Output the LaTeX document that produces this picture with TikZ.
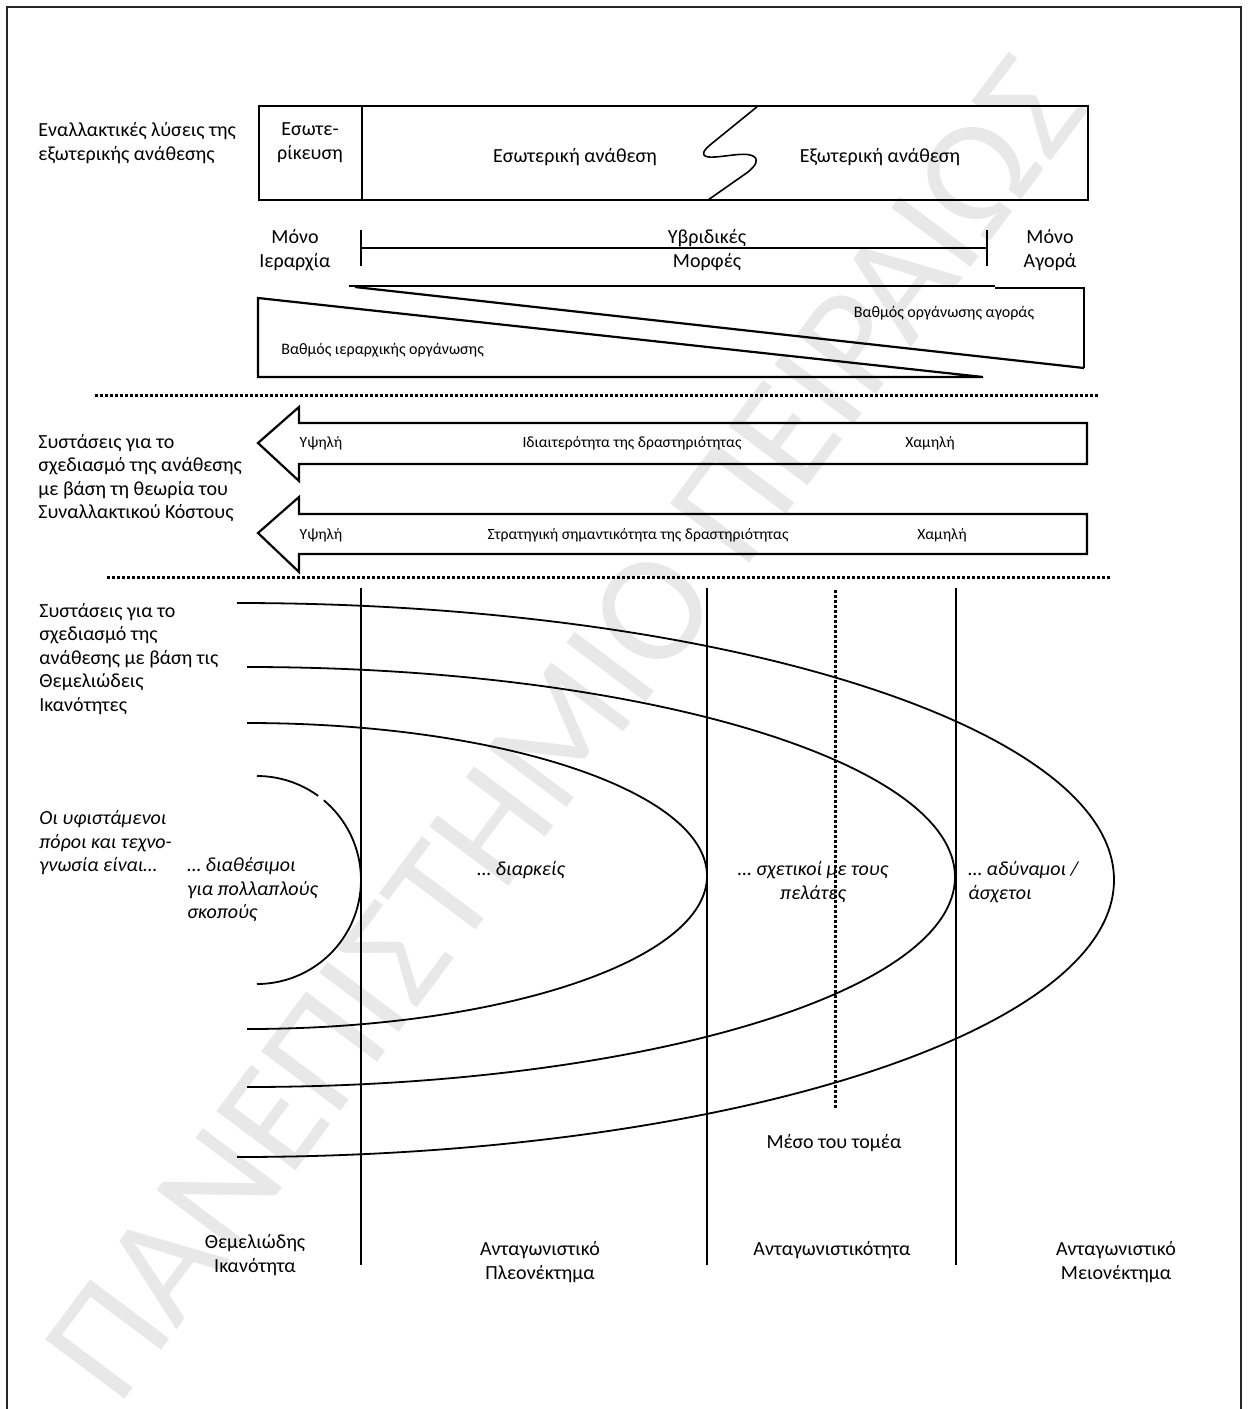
\documentclass[tikz,border=0pt]{standalone}
\usepackage{fontspec}
\setmainfont{Carlito}
\newfontfamily\wmfont{Carlito}
\begin{document}
\begin{tikzpicture}[x=0.5pt,y=-0.5pt,
  frame/.style={line width=1.3pt, black!85},
  box/.style={line width=1.1pt},
  thinline/.style={line width=0.8pt},
  curve/.style={line width=0.9pt},
  dots/.style={line width=1.5pt, dash pattern=on 1.5pt off 1pt},
  lab/.style={inner sep=0pt, align=left, font=\fontsize{10}{11.75}\selectfont},
  clab/.style={inner sep=0pt, align=center, font=\fontsize{10}{12}\selectfont},
  slab/.style={inner sep=0pt, font=\fontsize{8}{9.6}\selectfont},
  alab/.style={inner sep=0pt, font=\fontsize{7.8}{9}\selectfont},
  ilab/.style={inner sep=0pt, font=\itshape\fontsize{10}{11.75}\selectfont},
  wm/.style={inner sep=0pt, text=gray!18, font=\wmfont\fontsize{77}{77}\selectfont}
]
\useasboundingbox (0,0) rectangle (1248,1409);
\fill[white] (0,0) rectangle (1248,1409);

% watermark
\node[wm, rotate=53.2] (wmark) at (565,728) {ΠΑΝΕΠΙΣΤΗΜΙΟ ΠΕΙΡΑΙΩΣ};

% outer frame
\draw[frame] (7,1409) -- (7,7) -- (1241,7) -- (1241,1409);

% ---------- top box ----------
\draw[box] (259,106) rectangle (1088,200);
\draw[box] (362,106) -- (362,200);
\draw[thinline] (758,106) -- (710,145)
  .. controls (699,154) and (703,158) .. (715,157)
  .. controls (730,156) and (745,152) .. (753,156)
  .. controls (760,160) and (755,166) .. (748,172) -- (708,200);

\node[lab, anchor=west] (alt) at (38,143) {Εναλλακτικές λύσεις της\\εξωτερικής ανάθεσης};
\node[clab] (insourcing) at (310,143) {Εσωτε-\\ρίκευση};
\node[clab] (intout) at (575,157) {Εσωτερική ανάθεση};
\node[clab] (extout) at (880,157) {Εξωτερική ανάθεση};

% ---------- hybrid bar ----------
\node[clab] (onlyhier) at (295,250) {Μόνο\\Ιεραρχία};
\node[clab] (hybrid) at (707,250) {Υβριδικές\\Μορφές};
\node[clab] (onlymkt) at (1050,250) {Μόνο\\Αγορά};
\draw[thinline] (361,230) -- (361,266);
\draw[thinline] (987,230) -- (987,266);
\draw[thinline] (361,248) -- (987,248);

% ---------- triangles ----------
\draw[box] (349,286) -- (995,286);
\draw[thinline] (995,288) -- (1084,288) -- (1084,368);
\draw[box] (355,287) -- (1084,368);
\draw[box] (258,298) -- (258,377) -- (983,377) -- cycle;
\node[slab] (mktdeg) at (944,313) {Βαθμός οργάνωσης αγοράς};
\node[slab, anchor=west] (hierdeg) at (281,350) {Βαθμός ιεραρχικής οργάνωσης};

% ---------- dotted separators ----------
\draw[dots] (95,395) -- (1100,395);
\draw[dots] (107,577) -- (1110,577);

% ---------- arrows ----------
\draw[box] (1087,423) -- (299,423) -- (299,407) -- (258,443) -- (299,481) -- (299,464) -- (1087,464) -- cycle;
\draw[box] (1087,514) -- (299,514) -- (299,497) -- (258,533) -- (299,572) -- (299,554) -- (1087,554) -- cycle;

\node[lab, anchor=west] (tcrec) at (38,478) {Συστάσεις για το\\σχεδιασμό της ανάθεσης\\με βάση τη θεωρία του\\Συναλλακτικού Κόστους};
\node[alab] (high1) at (321,443) {Υψηλή};
\node[alab] (spec) at (632,443) {Ιδιαιτερότητα της δραστηριότητας};
\node[alab] (low1) at (930,443) {Χαμηλή};
\node[alab] (high2) at (321,535) {Υψηλή};
\node[alab] (strat) at (638,535) {Στρατηγική σημαντικότητα της δραστηριότητας};
\node[alab] (low2) at (942,535) {Χαμηλή};

% ---------- bottom section ----------
\draw[thinline] (361,588) -- (361,1265);
\draw[thinline] (707,588) -- (707,1265);
\draw[thinline] (956,588) -- (956,1265);
\draw[dots] (835,590) -- (835,1108);

\draw[curve] (237,603) arc[start angle=-90, end angle=90, x radius=877, y radius=277];
\draw[curve] (247,667) arc[start angle=-90, end angle=90, x radius=708, y radius=210];
\draw[curve] (247,723) arc[start angle=-90, end angle=90, x radius=460, y radius=153];
\draw[curve] (257,776) arc[start angle=-90, end angle=-54, radius=104];
\draw[curve] (323.85,800.33) arc[start angle=-50, end angle=90, radius=104];

\node[lab, anchor=west] (ccrec) at (39,659) {Συστάσεις για το\\σχεδιασμό της\\ανάθεσης με βάση τις\\Θεμελιώδεις\\Ικανότητες};
\node[ilab, anchor=west, align=left] (resources) at (39,843) {Οι υφιστάμενοι\\πόροι και τεχνο-\\γνωσία είναι…};
\node[ilab, anchor=west, align=left] (multi) at (187,890) {… διαθέσιμοι\\για πολλαπλούς\\σκοπούς};
\node[ilab] (durable) at (521,870) {… διαρκείς};
\node[ilab, align=center] (customer) at (813,882) {… σχετικοί με τους\\πελάτες};
\node[ilab, anchor=west, align=left] (weak) at (968,882) {… αδύναμοι /\\άσχετοι};

\node[clab] (sector) at (834,1143) {Μέσο του τομέα};
\node[clab] (corecomp) at (255,1255) {Θεμελιώδης\\Ικανότητα};
\node[clab] (compadv) at (540,1262) {Ανταγωνιστικό\\Πλεονέκτημα};
\node[clab] (compet) at (832,1250) {Ανταγωνιστικότητα};
\node[clab] (compdis) at (1116,1262) {Ανταγωνιστικό\\Μειονέκτημα};
\end{tikzpicture}
\end{document}
